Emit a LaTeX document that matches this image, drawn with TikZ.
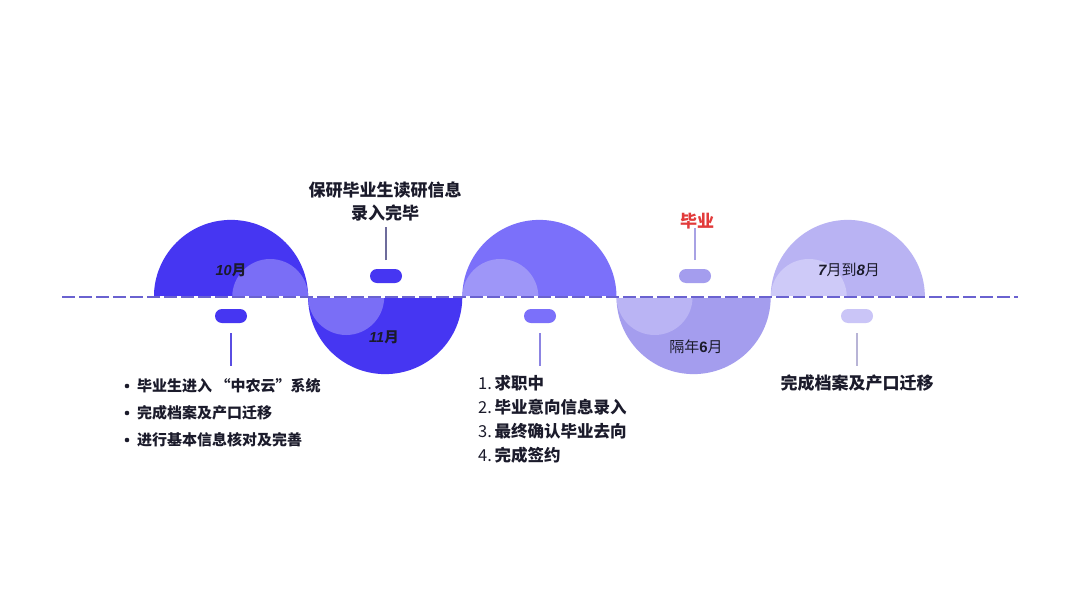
\documentclass[tikz,border=0pt]{standalone}
\usepackage{fontspec}
\setmainfont{Noto Sans CJK SC}
\newfontfamily\digf{Liberation Sans}
\definecolor{cA}{HTML}{4636F2}
\definecolor{cAl}{HTML}{7A6EF6}
\definecolor{cB}{HTML}{7B70FA}
\definecolor{cBl}{HTML}{9E96F8}
\definecolor{cC}{HTML}{A49DEE}
\definecolor{cCl}{HTML}{BAB4F4}
\definecolor{cD}{HTML}{B9B3F3}
\definecolor{cDl}{HTML}{CECAF8}
\definecolor{axisc}{HTML}{6A62D0}
\definecolor{txt}{HTML}{1B1B2B}
\definecolor{cRed}{HTML}{E23B3B}
\definecolor{lnA}{HTML}{5A4EE2}
\definecolor{lnB}{HTML}{6E6C9C}
\definecolor{lnC}{HTML}{8C84E2}
\definecolor{lnD}{HTML}{A8A2E4}
\definecolor{lnE}{HTML}{B8B4D6}
\tikzset{
  pill/.style={rectangle, rounded corners=7pt, minimum width=32pt, minimum height=14pt, inner sep=0pt},
  lbl/.style={text=txt, inner sep=0pt},
  stem/.style={line width=1.3pt},
}
\begin{document}
\begin{tikzpicture}[x=1pt,y=-1pt]
\fill[white] (0,0) rectangle (1080,608);
\path[use as bounding box] (0,0) rectangle (1080,608);
% semicircles
\begin{scope}
\clip (154,297) rectangle (308.2,210);
\fill[cA] (231,297) circle[radius=77.1];
\fill[cAl] (270.2,297) circle[radius=38];
\end{scope}
\begin{scope}
\clip (308.2,297) rectangle (462.4,385);
\fill[cA] (385.2,297) circle[radius=77.1];
\fill[cAl] (346.2,297) circle[radius=38];
\end{scope}
\begin{scope}
\clip (462.4,297) rectangle (616.6,210);
\fill[cB] (539.4,297) circle[radius=77.1];
\fill[cBl] (500.4,297) circle[radius=38];
\end{scope}
\begin{scope}
\clip (616.6,297) rectangle (770.8,385);
\fill[cC] (693.6,297) circle[radius=77.1];
\fill[cCl] (654.6,297) circle[radius=38];
\end{scope}
\begin{scope}
\clip (770.8,297) rectangle (925,210);
\fill[cD] (847.8,297) circle[radius=77.1];
\fill[cDl] (808.8,297) circle[radius=38];
\end{scope}
% axis
\coordinate (ax1) at (62,297);
\coordinate (ax2) at (1018,297);
\draw[white, line width=2pt] (ax1) -- (ax2);
\draw[axisc, line width=2pt, dash pattern=on 13pt off 4pt] (ax1) -- (ax2);
% pills
\node[pill, fill=cA] (p1) at (231,316) {};
\node[pill, fill=cA] (p2) at (386,276) {};
\node[pill, fill=cB] (p3) at (540,316) {};
\node[pill, fill=cC] (p4) at (695,276) {};
\node[pill, fill=cDl!80!cD] (p5) at (857,316) {};
% stems
\coordinate (s1a) at (231,333); \coordinate (s1b) at (231,366);
\coordinate (s2a) at (386,260); \coordinate (s2b) at (386,227);
\coordinate (s3a) at (540,333); \coordinate (s3b) at (540,366);
\coordinate (s4a) at (695,260); \coordinate (s4b) at (695,228);
\coordinate (s5a) at (857,333); \coordinate (s5b) at (857,366);
\draw[stem, lnA] (s1a) -- (s1b);
\draw[stem, lnB] (s2a) -- (s2b);
\draw[stem, lnC] (s3a) -- (s3b);
\draw[stem, lnD] (s4a) -- (s4b);
\draw[stem, lnE] (s5a) -- (s5b);
% month labels
\node[lbl, font=\fontsize{14.5}{16}\selectfont\bfseries] (m10) at (231,270) {{\digf\itshape 10}月};
\node[lbl, font=\fontsize{14.5}{16}\selectfont\bfseries] (m11) at (384,337) {{\digf\itshape 11}月};
\node[lbl, font=\fontsize{15}{17}\selectfont] (m6) at (696,347) {隔年{\digf\bfseries 6}月};
\node[lbl, font=\fontsize{15}{17}\selectfont] (m78) at (849,270) {{\digf\bfseries\itshape 7}月到{\digf\bfseries\itshape 8}月};
% top texts
\node[lbl, align=center, font=\fontsize{17}{23}\selectfont\bfseries] (ttl) at (385,201) {保研毕业生读研信息\\录入完毕};
\node[lbl, text=cRed, font=\fontsize{17}{20}\selectfont\bfseries] (grad) at (697,221) {毕业};
% bullet list
\fill[txt] (127,386) circle[radius=2.3];
\fill[txt] (127,413) circle[radius=2.3];
\fill[txt] (127,440) circle[radius=2.3];
\node[lbl, anchor=west, font=\fontsize{15}{17}\selectfont\bfseries] (b1) at (137,386) {毕业生进入 “中农云”系统};
\node[lbl, anchor=west, font=\fontsize{15}{17}\selectfont\bfseries] (b2) at (137,413) {完成档案及产口迁移};
\node[lbl, anchor=west, font=\fontsize{15}{17}\selectfont\bfseries] (b3) at (137,440) {进行基本信息核对及完善};
% numbered list
\node[lbl, anchor=west, font=\fontsize{16.5}{19}\selectfont\bfseries] (n1) at (478,383) {{\mdseries 1.}\,求职中};
\node[lbl, anchor=west, font=\fontsize{16.5}{19}\selectfont\bfseries] (n2) at (478,407) {{\mdseries 2.}\,毕业意向信息录入};
\node[lbl, anchor=west, font=\fontsize{16.5}{19}\selectfont\bfseries] (n3) at (478,431) {{\mdseries 3.}\,最终确认毕业去向};
\node[lbl, anchor=west, font=\fontsize{16.5}{19}\selectfont\bfseries] (n4) at (478,455) {{\mdseries 4.}\,完成签约};
% right text
\node[lbl, font=\fontsize{17}{20}\selectfont\bfseries] (r1) at (857,383) {完成档案及产口迁移};
\end{tikzpicture}
\end{document}
